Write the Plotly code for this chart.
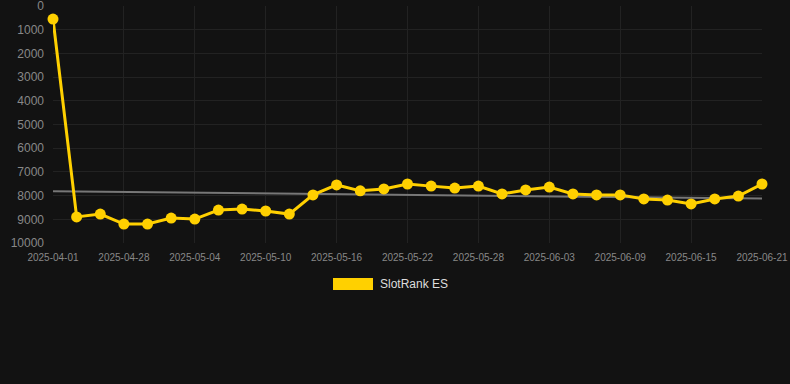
import plotly.graph_objects as go

dates = ["2025-04-01", "2025-04-24", "2025-04-26", "2025-04-28", "2025-04-30", "2025-05-02",
         "2025-05-04", "2025-05-06", "2025-05-08", "2025-05-10", "2025-05-12", "2025-05-14",
         "2025-05-16", "2025-05-18", "2025-05-20", "2025-05-22", "2025-05-24", "2025-05-26",
         "2025-05-28", "2025-05-30", "2025-06-01", "2025-06-03", "2025-06-05", "2025-06-07",
         "2025-06-09", "2025-06-11", "2025-06-13", "2025-06-15", "2025-06-17", "2025-06-19",
         "2025-06-21"]
rank = [550, 8900, 8780, 9200, 9200, 8950, 8990, 8610, 8570, 8650, 8780, 7970,
        7550, 7800, 7720, 7510, 7600, 7680, 7600, 7930, 7760, 7640, 7930, 7970,
        7970, 8140, 8190, 8350, 8140, 8020, 7510]
trend_x = [dates[0], dates[-1]]
trend_y = [7820, 8120]
tick_labels = dates[::3]
y_ticks = [0, 1000, 2000, 3000, 4000, 5000, 6000, 7000, 8000, 9000, 10000]
y_tick_text = [str(v) for v in y_ticks]

gold = "#FFD000"
fig = go.Figure()
fig.add_trace(go.Scatter(x=trend_x, y=trend_y, mode="lines",
                         line=dict(color="#777777", width=2), showlegend=False,
                         hoverinfo="skip"))
fig.add_trace(go.Scatter(x=dates, y=rank, mode="lines+markers", name="SlotRank ES",
                         line=dict(color=gold, width=3),
                         marker=dict(color=gold, size=11),
                         cliponaxis=False, showlegend=False))

fig.update_layout(
    width=790, height=384,
    margin=dict(l=53, r=28, t=6, b=141),
    paper_bgcolor="#121212", plot_bgcolor="#121212",
    font=dict(family="Arial, Liberation Sans, sans-serif", color="#888888"),
    xaxis=dict(type="category", categoryorder="array", categoryarray=dates,
               range=[0, len(dates) - 1], tickvals=tick_labels, ticktext=tick_labels,
               tickfont=dict(size=10, color="#888888"), showgrid=True,
               gridcolor="#222222", zeroline=False, showline=False, ticks="",
               ticklabelstandoff=7, automargin=False, ticklabeloverflow="allow"),
    yaxis=dict(range=[10000, 0], tickmode="array", tickvals=y_ticks, ticktext=y_tick_text,
               tickfont=dict(size=12, color="#888888"),
               showgrid=True, gridcolor="#222222", zeroline=False, showline=False,
               ticks="", ticklabelstandoff=8, automargin=False, ticklabeloverflow="allow"),
    showlegend=False,
)
fig.add_shape(type="rect", xref="paper", yref="paper",
              x0=(333 - 53) / 709, x1=(373 - 53) / 709,
              y0=(243 - 290) / 237, y1=(243 - 278) / 237,
              fillcolor=gold, line=dict(width=0))
fig.add_annotation(text="SlotRank ES", xref="paper", yref="paper",
                   x=(378 - 53) / 709, y=(243 - 284) / 237, xanchor="left", yanchor="middle",
                   showarrow=False, font=dict(size=12, color="#dddddd"))
fig.write_html("out.html")
